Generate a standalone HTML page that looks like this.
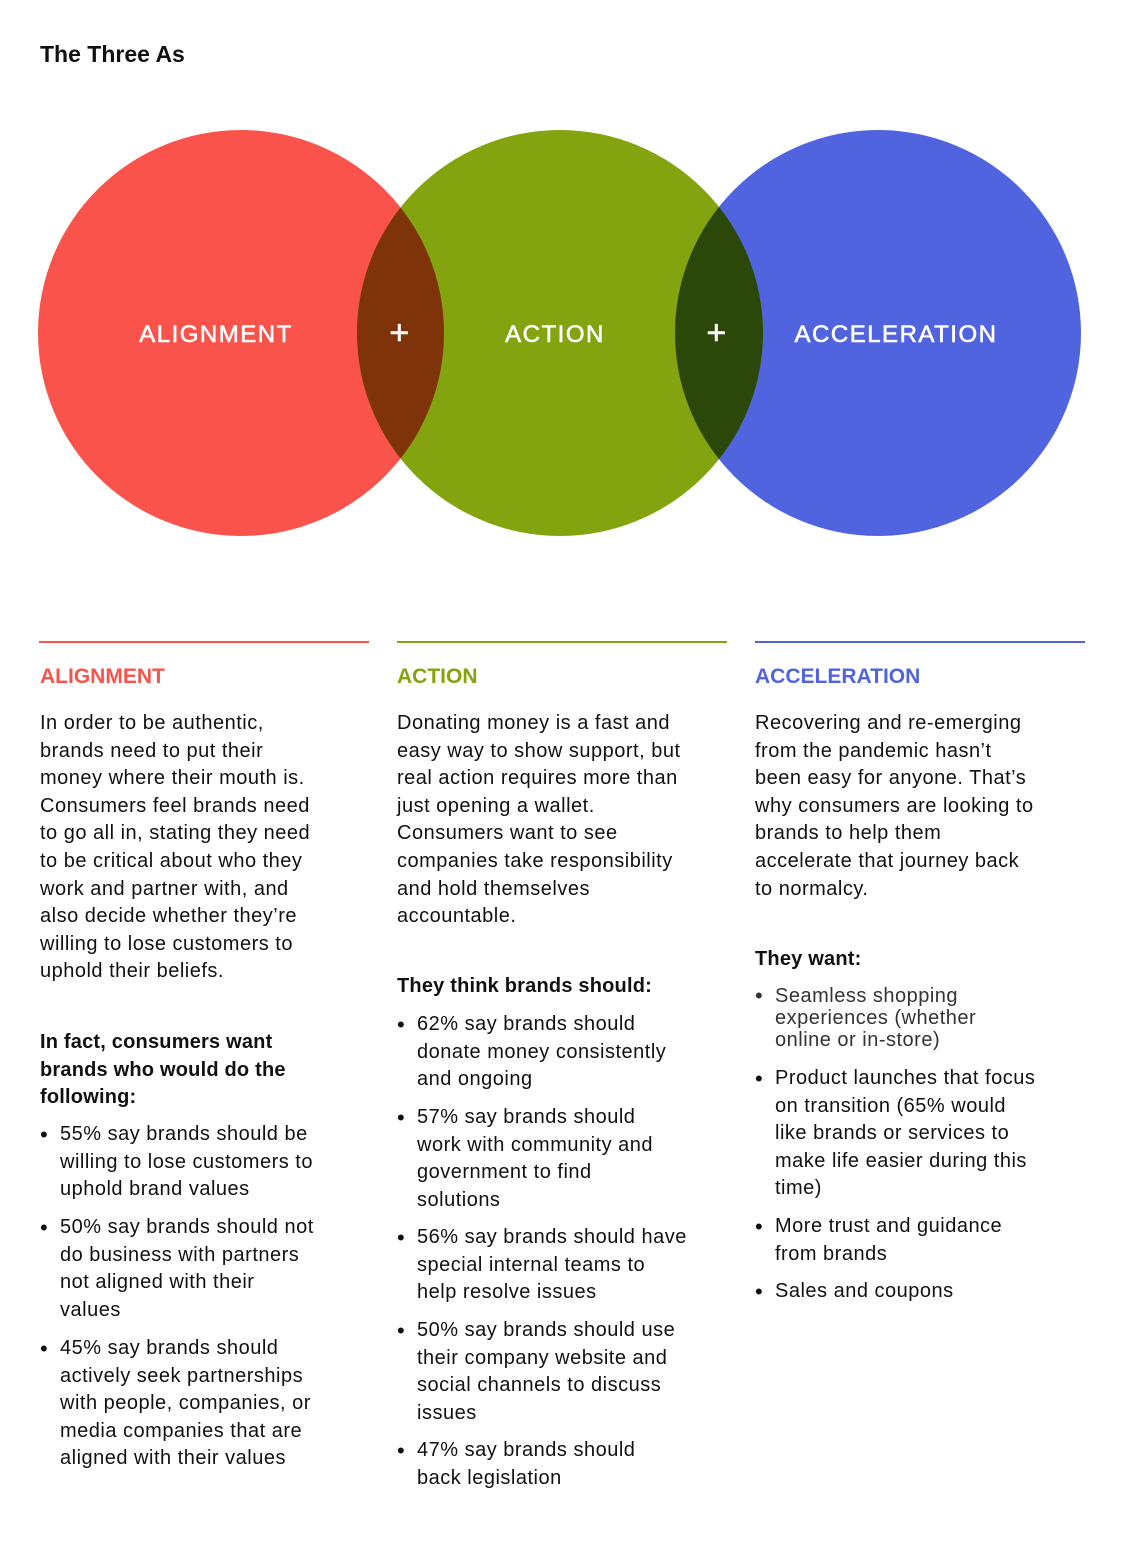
<!DOCTYPE html>
<html><head><meta charset="utf-8"><style>
body{margin:0;width:1126px;height:1552px;background:#fff;position:relative;font-family:"Liberation Sans",sans-serif;color:#111;overflow:hidden}
.a{position:absolute;white-space:nowrap}
.t{font-size:20px;line-height:27.6px;letter-spacing:0.5px}
.h{font-size:21px;font-weight:bold}
.b{font-weight:bold;letter-spacing:0.2px}
.li{position:absolute;font-size:20px;line-height:27.6px;letter-spacing:0.5px;white-space:nowrap}
.li:before{content:"•";position:absolute;left:-20px;font-size:22px}
.rule{position:absolute;top:641px;height:2px;width:330px}
.s{margin-top:2px}
</style></head><body>
<div class="a" style="left:40px;top:41px;font-size:23px;font-weight:bold">The Three As</div>
<svg class="a" style="left:0;top:0" width="1126" height="560">
<defs>
<clipPath id="cr"><circle cx="241" cy="333" r="203"/></clipPath>
<clipPath id="cb"><circle cx="878" cy="333" r="203"/></clipPath>
</defs>
<circle cx="241" cy="333" r="203" fill="#f9534b"/>
<circle cx="878" cy="333" r="203" fill="#5064e0"/>
<circle cx="560" cy="333" r="203" fill="#84a40f"/>
<circle cx="560" cy="333" r="203" fill="#7e3308" clip-path="url(#cr)"/>
<circle cx="560" cy="333" r="203" fill="#2b470a" clip-path="url(#cb)"/>
<g fill="#fff" stroke="#fff" stroke-width="0.6" font-family="Liberation Sans,sans-serif" font-size="24" letter-spacing="1.5" text-anchor="middle">
<text x="216" y="342">ALIGNMENT</text>
<text x="555" y="342">ACTION</text>
<text x="896" y="342">ACCELERATION</text>
<text x="400" y="344" font-size="34">+</text>
<text x="717" y="344" font-size="34">+</text>
</g>
</svg>
<div class="rule" style="left:39px;background:#f9534b"></div>
<div class="rule" style="left:397px;background:#84a40f"></div>
<div class="rule" style="left:755px;background:#5064e0"></div>
<div class="a h" style="left:40px;top:665px;color:#f9534b">ALIGNMENT</div>
<div class="a h" style="left:397px;top:665px;color:#84a40f">ACTION</div>
<div class="a h" style="left:755px;top:665px;color:#5064e0">ACCELERATION</div>

<div class="a t" style="left:40px;top:710px">In order to be authentic,<br>brands need to put their<br>money where their mouth is.<br>Consumers feel brands need<br>to go all in, stating they need<br>to be critical about who they<br>work and partner with, and<br>also decide whether they’re<br>willing to lose customers to<br>uphold their beliefs.</div>
<div class="a t b" style="left:40px;top:1029px">In fact, consumers want<br>brands who would do the<br>following:</div>
<div class="li" style="left:60px;top:1121px">55% say brands should be<br>willing to lose customers to<br>uphold brand values</div>
<div class="li" style="left:60px;top:1214px">50% say brands should not<br>do business with partners<br>not aligned with their<br>values</div>
<div class="li" style="left:60px;top:1335px">45% say brands should<br>actively seek partnerships<br>with people, companies, or<br>media companies that are<br>aligned with their values</div>

<div class="a t" style="left:397px;top:710px">Donating money is a fast and<br>easy way to show support, but<br>real action requires more than<br>just opening a wallet.<br>Consumers want to see<br>companies take responsibility<br>and hold themselves<br>accountable.</div>
<div class="a t b" style="left:397px;top:973px">They think brands should:</div>
<div class="li" style="left:417px;top:1011px">62% say brands should<br>donate money consistently<br>and ongoing</div>
<div class="li" style="left:417px;top:1104px">57% say brands should<br>work with community and<br>government to find<br>solutions</div>
<div class="li" style="left:417px;top:1224px">56% say brands should have<br>special internal teams to<br>help resolve issues</div>
<div class="li" style="left:417px;top:1317px">50% say brands should use<br>their company website and<br>social channels to discuss<br>issues</div>
<div class="li" style="left:417px;top:1437px">47% say brands should<br>back legislation</div>

<div class="a t" style="left:755px;top:710px">Recovering and re-emerging<br>from the pandemic hasn’t<br>been easy for anyone. That’s<br>why consumers are looking to<br>brands to help them<br>accelerate that journey back<br>to normalcy.</div>
<div class="a t b" style="left:755px;top:946px">They want:</div>
<div class="li" style="left:775px;top:985px;line-height:22px;color:#333;letter-spacing:0.5px">Seamless shopping<br>experiences (whether<br>online or in-store)</div>
<div class="li" style="left:775px;top:1065px">Product launches that focus<br>on transition (65% would<br>like brands or services to<br>make life easier during this<br>time)</div>
<div class="li" style="left:775px;top:1213px">More trust and guidance<br>from brands</div>
<div class="li" style="left:775px;top:1278px">Sales and coupons</div>
</body></html>
